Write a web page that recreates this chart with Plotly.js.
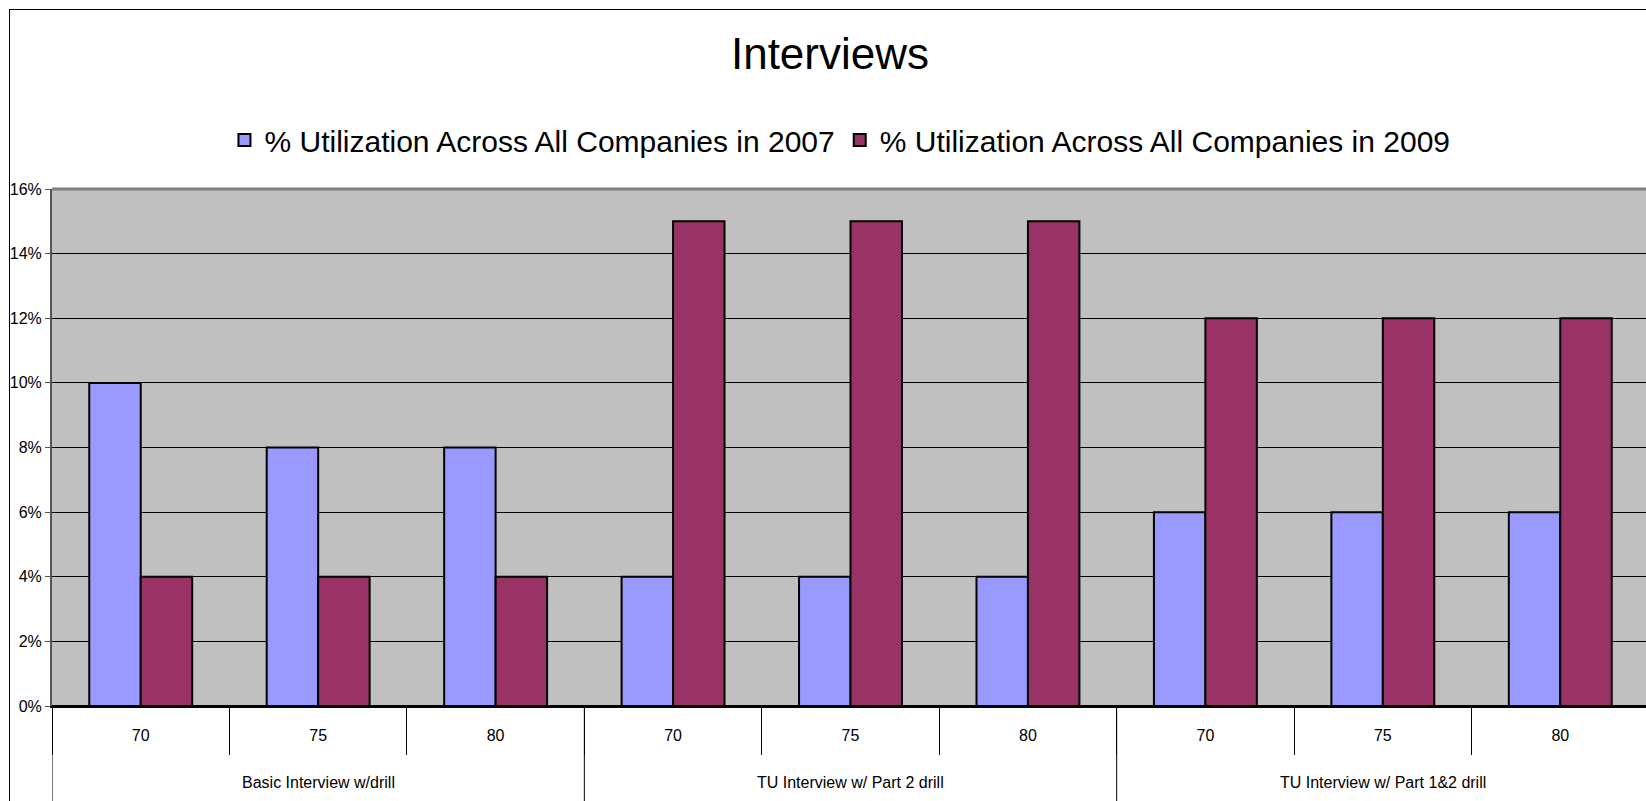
<!DOCTYPE html>
<html>
<head>
<meta charset="utf-8">
<script src="https://cdn.plot.ly/plotly-3.0.1.min.js"></script>
<style>
  html, body { margin: 0; padding: 0; overflow: hidden; background: #fff; }
  #chart { position: absolute; left: 0; top: 0; width: 1700px; height: 830px; }
  #frame { position: absolute; left: 9px; top: 9px; width: 2000px; height: 2000px;
           border: 1px solid #000; pointer-events: none; box-sizing: border-box; }
</style>
</head>
<body>
<div id="chart"></div>
<div id="frame"></div>
<script>
const groups = ['Basic Interview w/drill', 'TU Interview w/ Part 2 drill', 'TU Interview w/ Part 1&2 drill'];
const levels = ['70', '75', '80'];
const seriesNames = ['% Utilization Across All Companies in 2007', '% Utilization Across All Companies in 2009'];
const util2007 = [10, 8, 8, 4, 4, 4, 6, 6, 6];
const util2009 = [4, 4, 4, 15, 15, 15, 12, 12, 12];
const yTicks = [0, 2, 4, 6, 8, 10, 12, 14, 16];

// category positions built from the arrays
const innerLabels = [];
groups.forEach(() => levels.forEach(l => innerLabels.push(l)));
const idx = innerLabels.map((_, i) => i);
const boundaries = [];
for (let i = 0; i <= innerLabels.length; i++) boundaries.push(i - 0.5);
const groupCenters = groups.map((_, g) => g * levels.length + (levels.length - 1) / 2);
const groupEdges = [];
for (let g = 0; g <= groups.length; g++) groupEdges.push(g * levels.length - 0.5);

const FONT = '"Liberation Sans", Arial, sans-serif';

const traces = [
  { type: 'bar', name: seriesNames[0], x: idx, y: util2007,
    marker: { color: '#9999FF', line: { color: '#000', width: 2 } }, hoverinfo: 'y' },
  { type: 'bar', name: seriesNames[1], x: idx, y: util2009,
    marker: { color: '#993366', line: { color: '#000', width: 2 } }, hoverinfo: 'y' }
];

const plotH = 830 - 189 - 124;

const shapes = [
  { type: 'line', xref: 'paper', yref: 'paper', x0: 0, x1: 1, y0: 1, y1: 1,
    line: { color: '#808080', width: 3 } }
];
groupEdges.forEach(e => shapes.push({
  type: 'line', xref: 'x', yref: 'paper', x0: e, x1: e, y0: 0, y1: -130 / plotH,
  line: { color: '#000', width: 1 }
}));

const annotations = groups.map((g, i) => ({
  text: g, x: groupCenters[i], xref: 'x', y: -76 / plotH, yref: 'paper',
  xanchor: 'center', yanchor: 'middle', showarrow: false,
  font: { family: FONT, size: 16, color: '#000' }
}));

const layout = {
  width: 1700, height: 830,
  margin: { l: 52, r: 51, t: 189, b: 124 },
  paper_bgcolor: '#fff', plot_bgcolor: '#C0C0C0',
  font: { family: FONT, color: '#000', size: 16 },
  barmode: 'group', bargap: 0.42, bargroupgap: 0,
  title: { text: 'Interviews', font: { family: FONT, size: 44, color: '#000' },
           xref: 'container', x: 830 / 1700, xanchor: 'center',
           yref: 'container', y: 1 - 54 / 830, yanchor: 'middle' },
  showlegend: true,
  legend: { orientation: 'h', x: 0.4934, xanchor: 'center', y: 1.0948, yanchor: 'middle',
            font: { family: FONT, size: 30, color: '#000' }, bgcolor: 'rgba(0,0,0,0)',
            traceorder: 'normal' },
  xaxis: {
    type: 'linear', range: [-0.5, innerLabels.length - 0.5],
    tickmode: 'array', tickvals: idx, ticktext: innerLabels,
    showgrid: false, zeroline: false,
    showline: true, linecolor: '#000', linewidth: 2,
    ticks: '', ticklabelstandoff: 14,
    tickfont: { family: FONT, size: 16, color: '#000' },
    minor: { tickmode: 'array', tickvals: boundaries, ticks: 'outside', ticklen: 47,
             tickcolor: '#000', tickwidth: 1, showgrid: false }
  },
  yaxis: {
    range: [0, 16], tickmode: 'array', tickvals: yTicks, ticktext: yTicks.map(v => v + '%'),
    showgrid: true, gridcolor: '#000', gridwidth: 1,
    zeroline: true, zerolinecolor: '#000', zerolinewidth: 2,
    showline: true, linecolor: '#555', linewidth: 2,
    ticks: 'outside', ticklen: 5, tickcolor: '#555', tickwidth: 1,
    tickfont: { family: FONT, size: 16, color: '#000' }
  },
  shapes: shapes,
  annotations: annotations
};

Plotly.newPlot('chart', traces, layout, { displayModeBar: false, staticPlot: true });
</script>
</body>
</html>
